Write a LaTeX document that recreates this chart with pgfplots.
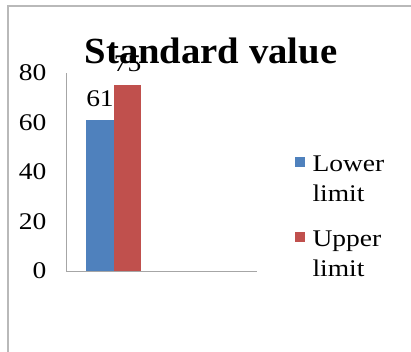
\documentclass[border=0pt]{standalone}
\usepackage{fontspec}
\setmainfont{Liberation Serif}
\newfontfamily\lblfont[FakeStretch=1.15]{Liberation Serif}
\newfontfamily\ttlfont[FakeStretch=1.05]{Liberation Serif}
\usepackage{pgfplots}
\pgfplotsset{compat=1.18}
\definecolor{xblue}{HTML}{4F81BD}
\definecolor{xred}{HTML}{C0504D}
\newcommand{\lbl}{\lblfont\fontsize{24}{30}\selectfont}
\begin{document}
\begin{tikzpicture}[x=1bp,y=1bp]
\useasboundingbox (0,0) rectangle (411,352);
\fill[white] (0,0) rectangle (411,352);
\draw[gray!55, line width=1.5bp] (8,0) -- (8,346) -- (411,346);
\begin{axis}[
  at={(66bp,81bp)}, anchor=south west,
  scale only axis, width=191bp, height=198bp,
  xmin=-0.5, xmax=1.5, ymin=0, ymax=80,
  ytick={0,20,40,60,80}, xtick=\empty,
  /pgf/number format/assume math mode=true,
  axis x line*=bottom, axis y line*=left,
  axis line style={draw=gray!70, line width=0.8bp, -},
  major tick length=0pt,
  tick label style={font=\lbl},
  yticklabel style={xshift=-16bp},
  ybar=0pt, bar width=27.5bp,
  nodes near coords,
  every node near coord/.append style={font=\lbl, yshift=10bp, black},
  legend style={at={(axis description cs:1.18,0.63)}, anchor=north west,
    draw=none, fill=none, font=\lbl, row sep=49bp, cells={anchor=west}},
  legend image code/.code={\fill[#1] (0bp,-5bp) rectangle (10bp,5bp); \path (16bp,0bp);},
]
\addplot[fill=xblue, draw=none] coordinates {(0,61)};
\addlegendentry{\begin{tabular}[t]{@{}l@{}}Lower\\limit\end{tabular}}
\addplot[fill=xred, draw=none] coordinates {(0,75)};
\addlegendentry{\begin{tabular}[t]{@{}l@{}}Upper\\limit\end{tabular}}
\end{axis}
\node[font=\ttlfont\bfseries\fontsize{37}{40}\selectfont, anchor=base] at (211,289) {Standard value};
\end{tikzpicture}
\end{document}
